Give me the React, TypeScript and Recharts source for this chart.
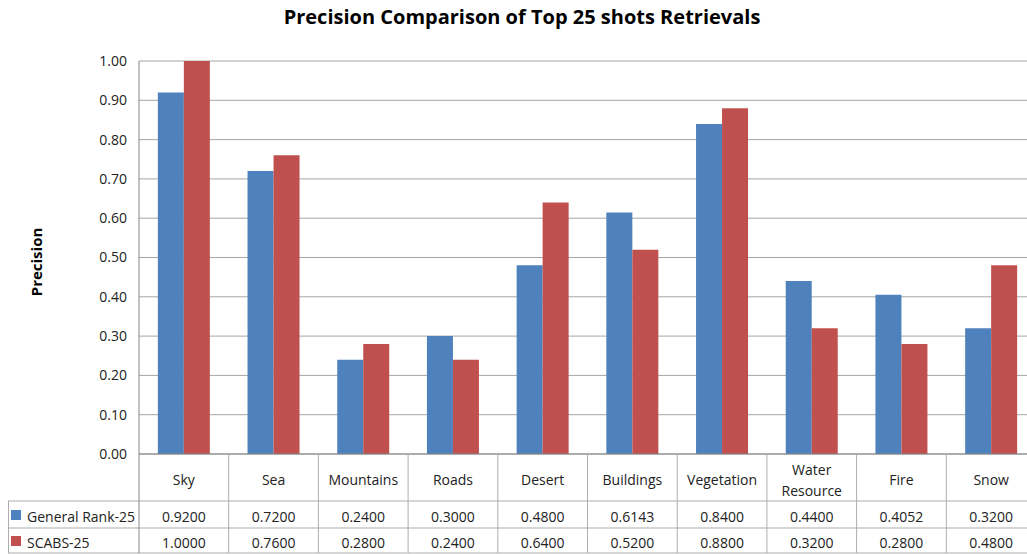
import React from 'react';
import { BarChart, Bar, XAxis, YAxis, CartesianGrid } from 'recharts';

const categories = ['Sky', 'Sea', 'Mountains', 'Roads', 'Desert', 'Buildings', 'Vegetation', 'Water Resource', 'Fire', 'Snow'];
const generalRank = [0.92, 0.72, 0.24, 0.3, 0.48, 0.6143, 0.84, 0.44, 0.4052, 0.32];
const scabs = [1.0, 0.76, 0.28, 0.24, 0.64, 0.52, 0.88, 0.32, 0.28, 0.48];
const yTicks = [0, 0.1, 0.2, 0.3, 0.4, 0.5, 0.6, 0.7, 0.8, 0.9, 1.0];
const seriesNames = ['General Rank-25', 'SCABS-25'];

const data = categories.map((c, i) => ({ name: c, general: generalRank[i], scabs: scabs[i] }));

const FONT = '"Open Sans", sans-serif';
const BLUE = '#4F81BD';
const RED = '#C0504D';
const LINE = '#ADADAD';
const CHART_W = 1045;
const CHART_H = 554;
const PLOT_LEFT = 139;
const PLOT_RIGHT_MARGIN = 9;
const PLOT_W = CHART_W - PLOT_LEFT - PLOT_RIGHT_MARGIN;
const AXIS_Y = 454;
const ROW1 = 501;
const ROW2 = 528;
const ROW_END = 553;
const TXT = '#222';

const TableTick = (props: any) => {
  const { x, index, payload } = props;
  const n = categories.length;
  const bw = PLOT_W / n;
  const left = x - bw / 2;
  const label: string = payload.value;
  const lines = label.length > 12 ? label.split(' ') : [label];
  return (
    <g>
      {index === 0 && (
        <g>
          <line x1={8} y1={ROW1} x2={CHART_W} y2={ROW1} stroke={LINE} />
          <line x1={8} y1={ROW2} x2={CHART_W} y2={ROW2} stroke={LINE} />
          <line x1={8} y1={ROW_END} x2={CHART_W} y2={ROW_END} stroke={LINE} />
          <line x1={8.5} y1={ROW1} x2={8.5} y2={ROW_END} stroke={LINE} />
          <rect x={11} y={510} width={10} height={10} fill={BLUE} />
          <rect x={11} y={536} width={10} height={10} fill={RED} />
          <text x={27} y={516} fontSize={14} fontFamily={FONT} fill={TXT} dominantBaseline="central">{seriesNames[0]}</text>
          <text x={27} y={542} fontSize={14} fontFamily={FONT} fill={TXT} dominantBaseline="central">{seriesNames[1]}</text>
        </g>
      )}
      <line x1={left} y1={AXIS_Y} x2={left} y2={ROW_END} stroke={index === 0 ? '#868686' : LINE} />
      {index === n - 1 && <line x1={left + bw} y1={AXIS_Y} x2={left + bw} y2={ROW_END} stroke={LINE} />}
      {lines.length === 1 ? (
        <text x={x} y={479} textAnchor="middle" dominantBaseline="central" fontSize={14} fontFamily={FONT} fill={TXT}>{lines[0]}</text>
      ) : (
        lines.map((l, k) => (
          <text key={k} x={x} y={469 + k * 21} textAnchor="middle" dominantBaseline="central" fontSize={14} fontFamily={FONT} fill={TXT}>{l}</text>
        ))
      )}
      <text x={x} y={516} textAnchor="middle" dominantBaseline="central" fontSize={14} fontFamily={FONT} fill={TXT}>{generalRank[index].toFixed(4)}</text>
      <text x={x} y={542} textAnchor="middle" dominantBaseline="central" fontSize={14} fontFamily={FONT} fill={TXT}>{scabs[index].toFixed(4)}</text>
    </g>
  );
};

const YLabel = () => (
  <text x={36} y={262} transform="rotate(-90, 36, 262)" textAnchor="middle" dominantBaseline="central" fontSize={15} fontWeight="bold" fontFamily={FONT} fill="#000">Precision</text>
);

export default function App() {
  return (
    <div style={{ position: 'absolute', left: 0, top: 0, width: 1027, height: 554, overflow: 'hidden', background: '#fff' }}>
      <div style={{ position: 'absolute', left: 0, top: 3, width: 1044, textAlign: 'center', fontFamily: FONT, fontWeight: 'bold', fontSize: 20, color: '#000', zIndex: 2 }}>
        Precision Comparison of Top 25 shots Retrievals
      </div>
      <BarChart
        width={CHART_W}
        height={CHART_H}
        data={data}
        margin={{ top: 61, right: PLOT_RIGHT_MARGIN, bottom: 0, left: 0 }}
        barCategoryGap="21%"
        barGap={0}
      >
        <CartesianGrid vertical={false} stroke="#A6A6A6" />
        <XAxis
          dataKey="name"
          height={CHART_H - AXIS_Y}
          interval={0}
          axisLine={{ stroke: '#868686' }}
          tickLine={false}
          tick={<TableTick />}
        />
        <YAxis
          width={PLOT_LEFT}
          domain={[0, 1]}
          ticks={yTicks}
          interval={0}
          tickFormatter={(v: number) => v.toFixed(2)}
          axisLine={{ stroke: '#868686' }}
          tickLine={false}
          tickMargin={6}
          tick={{ fontSize: 14, fontFamily: FONT, fill: TXT }}
          label={<YLabel />}
        />
        <Bar dataKey="general" fill={BLUE} isAnimationActive={false} />
        <Bar dataKey="scabs" fill={RED} isAnimationActive={false} />
      </BarChart>
    </div>
  );
}
